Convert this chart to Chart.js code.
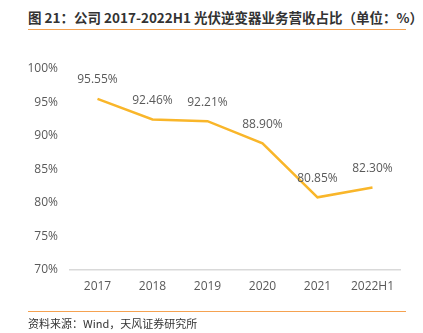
<!DOCTYPE html>
<html>
<head>
<meta charset="utf-8">
<script src="https://cdn.jsdelivr.net/npm/chart.js"></script>
<style>
  body { margin: 0; background: #fff; }
  #wrap { position: relative; width: 423px; height: 333px; overflow: hidden; }
  #title {
    position: absolute; left: 28px; top: 7px; white-space: nowrap;
    font-family: "Noto Sans CJK SC", sans-serif; font-size: 13.5px; font-weight: bold; color: #333;
  }
  #source {
    position: absolute; left: 28px; top: 315px; white-space: nowrap;
    font-family: "Noto Sans CJK SC", sans-serif; font-size: 11px; color: #333;
  }
  .rule { position: absolute; left: 28px; width: 378px; height: 1px; background: #F5A251; }
  canvas { position: absolute; left: 0; top: 0; }
</style>
</head>
<body>
<div id="wrap">
  <div id="title">图 21：公司 2017-2022H1 光伏逆变器业务营收占比（单位：%）</div>
  <div class="rule" style="top:29px"></div>
  <canvas id="chart" width="423" height="333"></canvas>
  <div class="rule" style="top:311px"></div>
  <div id="source">资料来源：Wind，天风证券研究所</div>
</div>
<script>
// chart data
const years = ['2017', '2018', '2019', '2020', '2021', '2022H1'];
const inverterShare = [95.55, 92.46, 92.21, 88.90, 80.85, 82.30];

const labelFont = '12px "Open Sans", "Noto Sans", sans-serif';

// draw value labels above each point
const valueLabels = {
  id: 'valueLabels',
  afterDatasetsDraw(chart) {
    const ctx = chart.ctx;
    const meta = chart.getDatasetMeta(0);
    ctx.save();
    ctx.font = labelFont;
    ctx.fillStyle = '#595959';
    ctx.textAlign = 'center';
    ctx.textBaseline = 'middle';
    meta.data.forEach((pt, i) => {
      ctx.fillText(inverterShare[i].toFixed(2) + '%', pt.x, pt.y - 19);
    });
    ctx.restore();
  }
};

new Chart(document.getElementById('chart'), {
  type: 'line',
  data: {
    labels: years,
    datasets: [{
      data: inverterShare,
      borderColor: '#F9B62A',
      borderWidth: 2.5,
      pointRadius: 0,
      tension: 0,
      fill: false
    }]
  },
  options: {
    responsive: false,
    animation: false,
    layout: { padding: { top: 69, right: 23, bottom: 0, left: 0 } },
    plugins: { legend: { display: false }, tooltip: { enabled: false } },
    scales: {
      x: {
        offset: true,
        grid: { display: false, drawTicks: false },
        border: { display: true, color: '#D9D9D9', width: 1.5 },
        ticks: { color: '#595959', font: { size: 12, family: '"Open Sans", "Noto Sans", sans-serif' }, padding: 9 },
        afterFit(scale) { scale.height = 63; }
      },
      y: {
        min: 70,
        max: 100,
        grid: { display: false, drawTicks: false },
        border: { display: false },
        ticks: {
          stepSize: 5,
          color: '#595959',
          font: { size: 12, family: '"Open Sans", "Noto Sans", sans-serif' },
          padding: 12,
          callback: v => v + '%'
        },
        afterFit(scale) { scale.width = 70; }
      }
    }
  },
  plugins: [valueLabels]
});
</script>
</body>
</html>
